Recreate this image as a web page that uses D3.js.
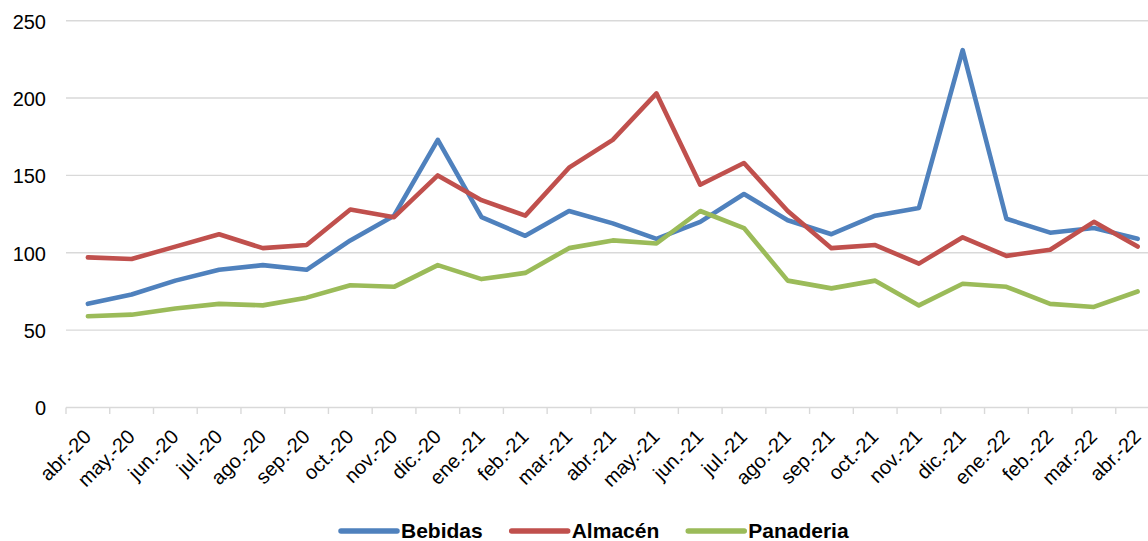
<!DOCTYPE html>
<html>
<head>
<meta charset="utf-8">
<script src="https://cdn.jsdelivr.net/npm/d3@7"></script>
<style>
  html, body { margin: 0; padding: 0; background: #fff; }
  svg { display: block; font-family: "Liberation Sans", Arial, Helvetica, sans-serif; }
</style>
</head>
<body>
<svg id="chart" width="1148" height="541"></svg>
<script>
const categories = ["abr.-20","may.-20","jun.-20","jul.-20","ago.-20","sep.-20","oct.-20","nov.-20","dic.-20",
  "ene.-21","feb.-21","mar.-21","abr.-21","may.-21","jun.-21","jul.-21","ago.-21","sep.-21","oct.-21","nov.-21","dic.-21",
  "ene.-22","feb.-22","mar.-22","abr.-22"];
const bebidas = [67,73,82,89,92,89,108,124,173,123,111,127,119,109,120,138,121,112,124,129,231,122,113,116,109];
const almacen = [97,96,104,112,103,105,128,123,150,134,124,155,173,203,144,158,127,103,105,93,110,98,102,120,104];
const panaderia = [59,60,64,67,66,71,79,78,92,83,87,103,108,106,127,116,82,77,82,66,80,78,67,65,75];
const yTicks = [0,50,100,150,200,250];
const seriesNames = ["Bebidas","Almacén","Panaderia"];
const seriesColors = ["#4F81BD","#C0504D","#9BBB59"];

const series = [bebidas, almacen, panaderia].map((vals, i) => ({
  name: seriesNames[i], color: seriesColors[i], values: vals
}));

const svg = d3.select("#chart");
const left = 66, step = 43.74;
const x = d3.scaleBand().domain(categories).range([left, left + step * categories.length]).paddingInner(0).paddingOuter(0);
const y = d3.scaleLinear().domain([0, 250]).range([407.5, 20.7]);
const gridColor = "#d9d9d9";

// gridlines
svg.append("g").selectAll("line").data(yTicks.filter(d => d > 0)).join("line")
  .attr("x1", left).attr("x2", 1148)
  .attr("y1", d => y(d)).attr("y2", d => y(d))
  .attr("stroke", gridColor).attr("stroke-width", 1.4);

// y axis labels
const yAxis = d3.axisLeft(y).tickValues(yTicks).tickSize(0).tickPadding(0);
const gy = svg.append("g").attr("transform", `translate(46,0)`).call(yAxis);
gy.select(".domain").remove();
gy.selectAll("text").attr("font-size", 20).attr("fill", "#000")
  .attr("font-family", "Liberation Sans, Arial, sans-serif").attr("dy", "0.37em");

// x axis
const xAxis = d3.axisBottom(x).tickSize(0).tickFormat(d => d);
const gx = svg.append("g").attr("transform", `translate(0,${y(0)})`).call(xAxis);
gx.select(".domain").remove();
gx.selectAll(".tick line").remove();
gx.selectAll(".tick text")
  .attr("font-size", 20).attr("fill", "#000")
  .attr("font-family", "Liberation Sans, Arial, sans-serif")
  .attr("text-anchor", "end")
  .attr("dy", 0)
  .attr("y", 0)
  .attr("transform", "translate(4.5,30.5) rotate(-45)");

// axis line and category boundary ticks
svg.append("line").attr("x1", left).attr("x2", 1148).attr("y1", y(0)).attr("y2", y(0))
  .attr("stroke", gridColor).attr("stroke-width", 1.4);
const boundaries = categories.map(c => x(c)).concat([x(categories[categories.length-1]) + x.bandwidth()]);
svg.append("g").selectAll("line").data(boundaries).join("line")
  .attr("x1", d => d).attr("x2", d => d)
  .attr("y1", y(0)).attr("y2", y(0) + 6.5)
  .attr("stroke", gridColor).attr("stroke-width", 1.4);

// lines
const line = d3.line()
  .x((d, i) => x(categories[i]) + x.bandwidth() / 2)
  .y(d => y(d));
svg.append("g").selectAll("path").data(series).join("path")
  .attr("d", s => line(s.values))
  .attr("fill", "none")
  .attr("stroke", s => s.color)
  .attr("stroke-width", 4.6)
  .attr("stroke-linejoin", "round")
  .attr("stroke-linecap", "round");

// legend
const legend = svg.append("g");
let lx = 341;
const ly = 531;
series.forEach((s, i) => {
  legend.append("line").attr("x1", lx).attr("x2", lx + 56).attr("y1", ly).attr("y2", ly)
    .attr("stroke", s.color).attr("stroke-width", 5.5).attr("stroke-linecap", "round");
  const t = legend.append("text").attr("x", lx + 60).attr("y", 537.5)
    .attr("font-size", 21).attr("font-weight", "bold").attr("fill", "#000")
    .text(s.name);
  const w = t.node().getComputedTextLength();
  lx = lx + 60 + w + 29;
});
</script>
</body>
</html>
